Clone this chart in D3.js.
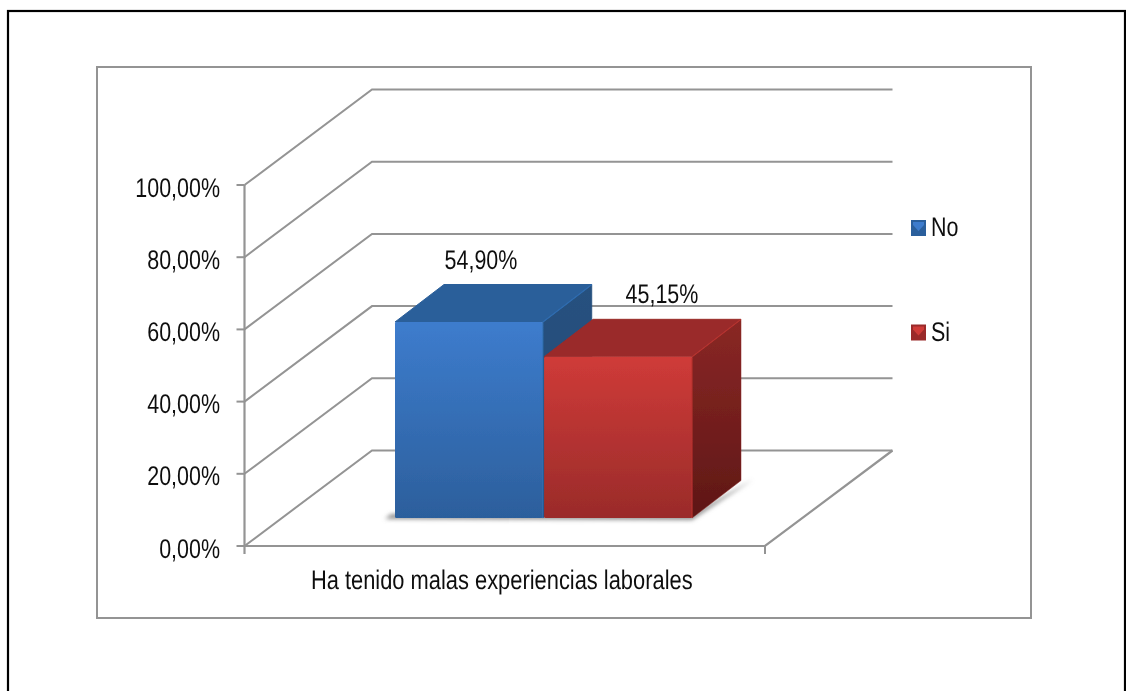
<!DOCTYPE html>
<html><head><meta charset="utf-8">
<script src="https://cdn.jsdelivr.net/npm/d3@7"></script>
<style>html,body{margin:0;padding:0;background:#fff;overflow:hidden}svg{display:block}
text{font-family:"Liberation Sans",Arial,sans-serif;fill:#111;text-rendering:geometricPrecision}</style></head>
<body><svg id="c" width="1126" height="691"></svg>
<script>
const categories = ["Ha tenido malas experiencias laborales"];
const seriesNames = ["No", "Si"];
const seriesValues = [54.90, 45.15];
const valueLabels = ["54,90%", "45,15%"];
const tickValues = [0, 20, 40, 60, 80, 100];
const tickLabels = ["0,00%", "20,00%", "40,00%", "60,00%", "80,00%", "100,00%"];
const colors = [
  {top:"#2b5f9a", side:"#25507f", a:"#3d7ccd", b:"#2c5f9c", sa:"#26517f", sb:"#234a76", edge:"#2f6cb0"},
  {top:"#9a2b2a", side:"#82231f", a:"#cf3b38", b:"#9a2b2a", sa:"#8a2725", sb:"#5e1716", edge:"#b8322f"}
];

const root = d3.select("#c");
const defs = root.append("defs");
const all = defs.append("filter").attr("id","all").attr("filterUnits","userSpaceOnUse")
  .attr("x",0).attr("y",0).attr("width",1126).attr("height",691);
all.append("feGaussianBlur").attr("stdDeviation",0.45);
const svg = root.append("g").attr("filter","url(#all)");

const y = d3.scaleLinear().domain([0, 100]).range([546, 185]);
const x = d3.scaleBand().domain(categories).range([244.5, 765]);
const barY = d3.scaleLinear().domain([0, 100]).range([518, 161]);
const inner = d3.scaleBand().domain(seriesNames).range([395, 692]).paddingInner(0.008);
const DX = 127.5, DY = -95.5, BDX = 49, BDY = -37.5;
const grey = "#949494";
const FS = 27, SX = 0.795;
const label = (lx, ly, txt, anchor, sx = SX) => svg.append("text").attr("x",lx).attr("y",ly)
  .attr("text-anchor",anchor).attr("font-size",FS)
  .attr("transform",`translate(${lx},0) scale(${sx},1) translate(${-lx},0)`).text(txt);

// frames
root.insert("rect","g").attr("x",0).attr("y",0).attr("width",1126).attr("height",691).attr("fill","#fff");
svg.append("rect").attr("x",8).attr("y",11).attr("width",1117).attr("height",700)
  .attr("fill","none").attr("stroke","#000").attr("stroke-width",2.2);
svg.append("rect").attr("x",97).attr("y",67).attr("width",934).attr("height",551)
  .attr("fill","#fff").attr("stroke",grey).attr("stroke-width",2);

// gridlines on side wall and back wall
const xl = x.range()[0], xr = x.range()[1];
tickValues.forEach(t => {
  svg.append("path")
    .attr("d", d3.line()([[xl,y(t)],[xl+DX,y(t)+DY],[xr+DX,y(t)+DY]]))
    .attr("fill","none").attr("stroke",grey).attr("stroke-width",2);
});
// floor
svg.append("path")
  .attr("d", d3.line()([[xl,y(0)],[xr,y(0)],[xr+DX,y(0)+DY]]))
  .attr("fill","none").attr("stroke",grey).attr("stroke-width",2.2);
// value axis
svg.append("line").attr("x1",xl).attr("x2",xl).attr("y1",y(100)).attr("y2",y(0)+8)
  .attr("stroke",grey).attr("stroke-width",2.2);
svg.append("line").attr("x1",xr).attr("x2",xr).attr("y1",y(0)).attr("y2",y(0)+8)
  .attr("stroke",grey).attr("stroke-width",2);
tickValues.forEach((t,i) => {
  svg.append("line").attr("x1",xl-8).attr("x2",xl).attr("y1",y(t)).attr("y2",y(t))
    .attr("stroke",grey).attr("stroke-width",2);
  label(220, y(t)+11.5, tickLabels[i], "end");
});
label(x(categories[0])+x.bandwidth()/2-3, 588.5, categories[0], "middle", 0.81);

// gradients
const shadow = defs.append("filter").attr("id","blur").attr("x","-10%").attr("y","-30%").attr("width","120%").attr("height","160%");
shadow.append("feGaussianBlur").attr("stdDeviation",2);
colors.forEach((c,i) => {
  const f = defs.append("linearGradient").attr("id","f"+i).attr("x1",0).attr("x2",0).attr("y1",0).attr("y2",1);
  f.append("stop").attr("offset",0).attr("stop-color",c.a);
  f.append("stop").attr("offset",1).attr("stop-color",c.b);
  const s = defs.append("linearGradient").attr("id","s"+i).attr("x1",0).attr("x2",0).attr("y1",0).attr("y2",1);
  s.append("stop").attr("offset",0).attr("stop-color",c.sa);
  s.append("stop").attr("offset",1).attr("stop-color",c.sb);
});

// bars
const poly = pts => "M" + pts.map(p => p.join(",")).join("L") + "Z";
const bx0 = inner(seriesNames[0]), bx1 = inner(seriesNames[1]) + inner.bandwidth();
const b0 = barY(0);
svg.append("path").attr("filter","url(#blur)").attr("fill","#8f8f8f")
  .attr("d", poly([[bx0-10,b0+1],[bx1,b0+2],[bx1+BDX+12,b0+BDY-1],[bx1+BDX-4,b0+BDY+8],[bx1,b0-4],[bx0-4,b0-4]]));

seriesNames.forEach((s,i) => {
  const v = seriesValues[i], c = colors[i];
  const a = inner(s), b = a + inner.bandwidth(), t = barY(v);
  const g = svg.append("g").attr("stroke-linejoin","round");
  g.append("path").attr("fill",`url(#s${i})`).attr("stroke",c.sa).attr("stroke-width",0.5)
    .attr("d", poly([[b,t],[b+BDX,t+BDY],[b+BDX,b0+BDY],[b,b0]]));
  g.append("path").attr("fill",c.top).attr("stroke",c.top).attr("stroke-width",1)
    .attr("d", poly([[a,t],[a+BDX,t+BDY],[b+BDX,t+BDY],[b,t]]));
  g.append("rect").attr("x",a).attr("y",t).attr("rx",1.5).attr("width",inner.bandwidth())
    .attr("height",b0-t).attr("fill",`url(#f${i})`);
  g.append("path").attr("fill","none").attr("stroke",c.edge).attr("stroke-width",1.1)
    .attr("d", d3.line()([[b,b0],[b,t],[b+BDX,t+BDY]]));
  const lx = i === 0 ? 481 : 662;
  label(lx, t + BDY - 16, valueLabels[i], "middle");
});

// legend
const legY = d3.scalePoint().domain(seriesNames).range([228, 332.5]);
seriesNames.forEach((s,i) => {
  const c = colors[i], ly = legY(s);
  svg.append("rect").attr("x",911).attr("y",ly-8).attr("width",15).attr("height",16).attr("fill",c.b);
  svg.append("path").attr("d",poly([[913,ly-6],[924,ly-6],[924,ly-3],[918.5,ly+3],[913,ly-3]])).attr("fill",c.a);
  label(931, ly+8, s, "start");
});
</script></body></html>
